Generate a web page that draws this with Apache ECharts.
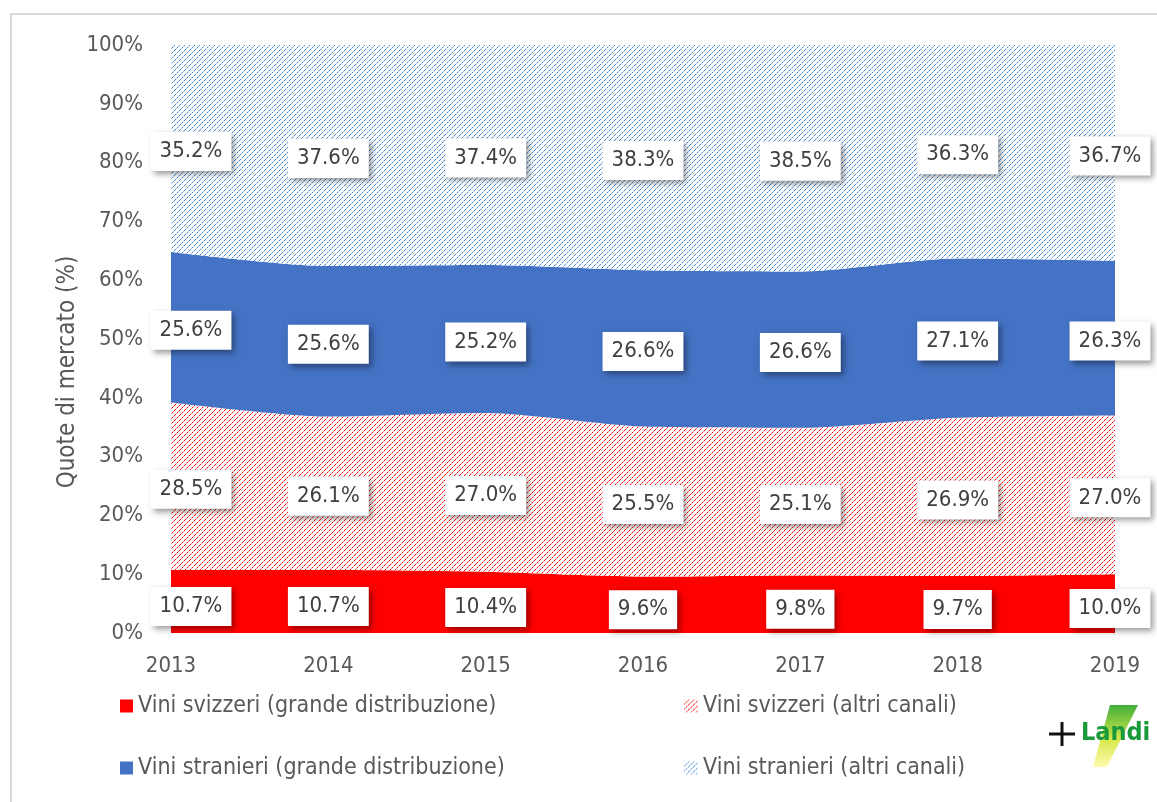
<!DOCTYPE html>
<html>
<head>
<meta charset="utf-8">
<script src="https://cdn.jsdelivr.net/npm/echarts@6/dist/echarts.min.js"></script>
<style>
  html, body { margin: 0; padding: 0; background: #fff; }
  #main { width: 1157px; height: 802px; }
</style>
</head>
<body>
<div id="main"></div>
<script>
var years = ['2013', '2014', '2015', '2016', '2017', '2018', '2019'];
var swissRetail = [10.7, 10.7, 10.4, 9.6, 9.8, 9.7, 10.0];
var swissOther = [28.5, 26.1, 27.0, 25.5, 25.1, 26.9, 27.0];
var foreignRetail = [25.6, 25.6, 25.2, 26.6, 26.6, 27.1, 26.3];
var foreignOther = [35.2, 37.6, 37.4, 38.3, 38.5, 36.3, 36.7];
var seriesNames = [
    'Vini svizzeri (grande distribuzione)',
    'Vini svizzeri (altri canali)',
    'Vini stranieri (grande distribuzione)',
    'Vini stranieri (altri canali)'
];
var axisTitle = 'Quote di mercato (%)';

var FONT = '"DejaVu Sans Condensed", "DejaVu Sans", sans-serif';

// dotted diagonal hatch, drawn pixel by pixel
function hatch(color, light) {
    var n = 5;
    var c = document.createElement('canvas');
    c.width = n; c.height = n;
    var ctx = c.getContext('2d');
    ctx.fillStyle = '#fff';
    ctx.fillRect(0, 0, n, n);
    for (var i = 0; i < n; i++) {
        ctx.fillStyle = i % 2 ? light : color;
        ctx.fillRect(i, n - 1 - i, 1, 1);
    }
    return { image: c, repeat: 'repeat' };
}

var redHatch = hatch('#ff0000', '#ff8080');
var blueHatch = hatch('#3d85d6', '#9cc3ee');
var bands = [swissRetail, swissOther, foreignRetail, foreignOther];
var fills = ['#ff0000', redHatch, '#4472c4', blueHatch];

var myChart = echarts.init(document.getElementById('main'));

var series = [];
bands.forEach(function (vals, k) {
    series.push({
        name: seriesNames[k],
        type: 'line',
        stack: 'total',
        data: vals,
        smooth: 0.25,
        showSymbol: false,
        symbol: 'none',
        lineStyle: { width: 0 },
        itemStyle: { color: fills[k] },
        areaStyle: k === 0 ? {
            color: fills[k], opacity: 1,
            shadowColor: 'rgba(0,0,0,0.35)', shadowBlur: 5, shadowOffsetY: 2
        } : { color: fills[k], opacity: 1 },
        z: 2
    });
});

// data labels at the middle of each band
var labelData = [];
years.forEach(function (y, i) {
    var base = 0;
    bands.forEach(function (vals, k) {
        labelData.push({
            value: [i, base + vals[i] / 2, vals[i]],
            label: { offset: [i === 0 ? 20 : (i === years.length - 1 ? -5 : 0), k === 0 ? 5 : 3] }
        });
        base += vals[i];
    });
});
series.push({
    name: 'labels',
    type: 'scatter',
    data: labelData,
    symbolSize: 0,
    itemStyle: { color: 'transparent', opacity: 1 },
    silent: true,
    z: 5,
    label: {
        show: true,
        position: 'inside',
        formatter: function (p) { return p.value[2].toFixed(1) + '%'; },
        fontFamily: FONT,
        fontSize: 22,
        color: '#404040',
        backgroundColor: '#ffffff',
        padding: [9, 9, 8, 9],
        shadowColor: 'rgba(0,0,0,0.4)',
        shadowBlur: 6,
        shadowOffsetX: 3,
        shadowOffsetY: 3
    }
});

var legendText = { fontFamily: FONT, fontSize: 23, color: '#595959', lineHeight: 24 };

var option = {
    backgroundColor: '#fff',
    animation: false,
    grid: { left: 171, right: 42, top: 45, bottom: 169 },
    legend: [
        {
            data: [
                { name: seriesNames[0], itemStyle: { color: '#ff0000' } },
                { name: seriesNames[2], itemStyle: { color: '#4472c4' } }
            ],
            orient: 'vertical', left: 115, top: 689, itemGap: 38,
            icon: 'rect', itemWidth: 13, itemHeight: 13,
            textStyle: legendText
        },
        {
            data: [
                { name: seriesNames[1], itemStyle: { color: redHatch } },
                { name: seriesNames[3], itemStyle: { color: blueHatch } }
            ],
            orient: 'vertical', left: 679, top: 689, itemGap: 38,
            icon: 'rect', itemWidth: 14, itemHeight: 13,
            textStyle: legendText
        }
    ],
    xAxis: {
        type: 'category',
        data: years,
        boundaryGap: false,
        axisLine: { show: false },
        axisTick: { show: false },
        axisLabel: { margin: 22, fontFamily: FONT, fontSize: 22, color: '#595959' }
    },
    yAxis: {
        type: 'value',
        min: 0, max: 100, interval: 10,
        splitLine: { show: false },
        axisLine: { show: false },
        axisTick: { show: false },
        axisLabel: { margin: 28, formatter: '{value}%', fontFamily: FONT, fontSize: 22, color: '#595959' }
    },
    graphic: [
        {
            type: 'rect', silent: true, z: -1,
            shape: { x: 11, y: 14, width: 1160, height: 800 },
            style: { fill: 'none', stroke: '#d9d9d9', lineWidth: 2 }
        },
        {
            type: 'text', silent: true,
            x: 68, y: 372, rotation: Math.PI / 2,
            style: {
                text: axisTitle, fontSize: 24, fontFamily: FONT, fill: '#595959',
                align: 'center', verticalAlign: 'middle'
            }
        },
        {
            type: 'polygon', silent: true,
            shape: { points: [[1110, 705], [1138, 705], [1107, 767], [1093, 767]] },
            style: {
                fill: new echarts.graphic.LinearGradient(0, 0, 0, 1, [
                    { offset: 0, color: '#3fae3a' },
                    { offset: 0.55, color: '#d6e84a' },
                    { offset: 1, color: '#fffbb0' }
                ])
            }
        },
        {
            type: 'line', silent: true,
            shape: { x1: 1049, y1: 734, x2: 1075, y2: 734 },
            style: { stroke: '#111', lineWidth: 3 }
        },
        {
            type: 'line', silent: true,
            shape: { x1: 1062, y1: 722, x2: 1062, y2: 746 },
            style: { stroke: '#111', lineWidth: 3 }
        },
        {
            type: 'text', silent: true,
            style: {
                x: 1081, y: 721, text: 'Landi', fontSize: 25,
                fontFamily: FONT, fontWeight: 'bold', fill: '#1a9a3a'
            }
        }
    ],
    series: series
};

option && myChart.setOption(option);
</script>
</body>
</html>
